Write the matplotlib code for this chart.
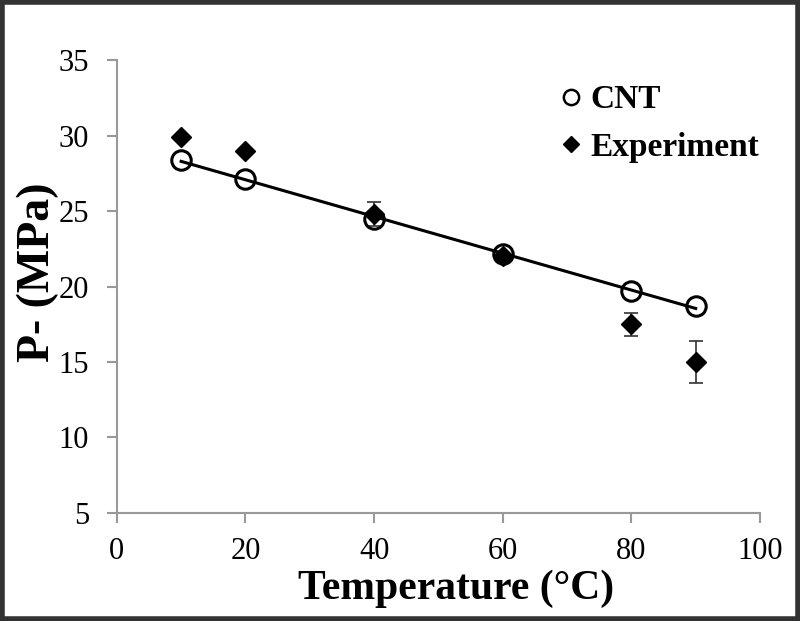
import numpy as np
import matplotlib
matplotlib.use("Agg")
import matplotlib.pyplot as plt
from matplotlib.patches import Rectangle
from matplotlib.lines import Line2D

temperature = [10, 20, 40, 60, 80, 90]
cnt_values = [28.4, 27.1, 24.5, 22.15, 19.7, 18.7]
exp_values = [29.9, 29.0, 24.8, 22.0, 17.5, 15.0]
exp_errors = [0.0, 0.0, 0.8, 0.2, 0.76, 1.4]
x_ticks = [0, 20, 40, 60, 80, 100]
y_ticks = [5, 10, 15, 20, 25, 30, 35]

plt.rcParams['font.family'] = ['Liberation Serif', 'DejaVu Serif']

fig = plt.figure(figsize=(8, 6.21), dpi=100)
ax = fig.add_axes([0.146, 0.174, 0.804, 0.729])

# trendline through CNT values
coef = np.polyfit(temperature, cnt_values, 1)
xs = np.array([temperature[0], temperature[-1]])
ax.plot(xs, np.polyval(coef, xs), color='black', lw=2.2, zorder=2)

ax.errorbar(temperature, exp_values, yerr=exp_errors, fmt='D', color='black',
            ms=10, ecolor='#333333', elinewidth=1.2, capsize=5, capthick=1.2,
            zorder=3)
ax.plot(temperature, cnt_values, 'o', mfc='none', mec='black', mew=2.2, ms=14,
        zorder=4)

ax.set_xlim(0, 100)
ax.set_ylim(5, 35)
ax.set_xticks(x_ticks)
ax.set_yticks(y_ticks)
for s in ['top', 'right']:
    ax.spines[s].set_visible(False)
for s in ['left', 'bottom']:
    ax.spines[s].set_color('#999999')
    ax.spines[s].set_linewidth(1.5)
ax.tick_params(direction='out', length=7, width=1.5, color='#999999',
               labelsize=22)
ax.tick_params(axis='y', pad=13)
ax.tick_params(axis='x', pad=10)

ax.set_xlabel('Temperature (°C)', fontsize=30, fontweight='bold')
ax.xaxis.set_label_coords(0.527, -0.125)
ax.set_ylabel('P- (MPa)', fontsize=33, fontweight='bold')
ax.yaxis.set_label_coords(-0.09, 0.532)

h_cnt = Line2D([], [], ls='none', marker='o', mfc='none', mec='black', mew=1.8, ms=11)
h_exp = Line2D([], [], ls='none', marker='D', color='black', ms=8)
leg = ax.legend([h_cnt, h_exp], ['CNT', 'Experiment'], loc='upper left',
                frameon=False, prop={'size': 24, 'weight': 'bold'},
                handletextpad=0.2, handlelength=0.8, labelspacing=0.5,
                borderaxespad=0, borderpad=0,
                bbox_to_anchor=(0.685, 0.947))

fig.add_artist(Rectangle((0.002, 0.003), 0.996, 0.994, transform=fig.transFigure,
                         fill=False, ec='#333333', lw=4))

fig.savefig('out.png', dpi=100)
